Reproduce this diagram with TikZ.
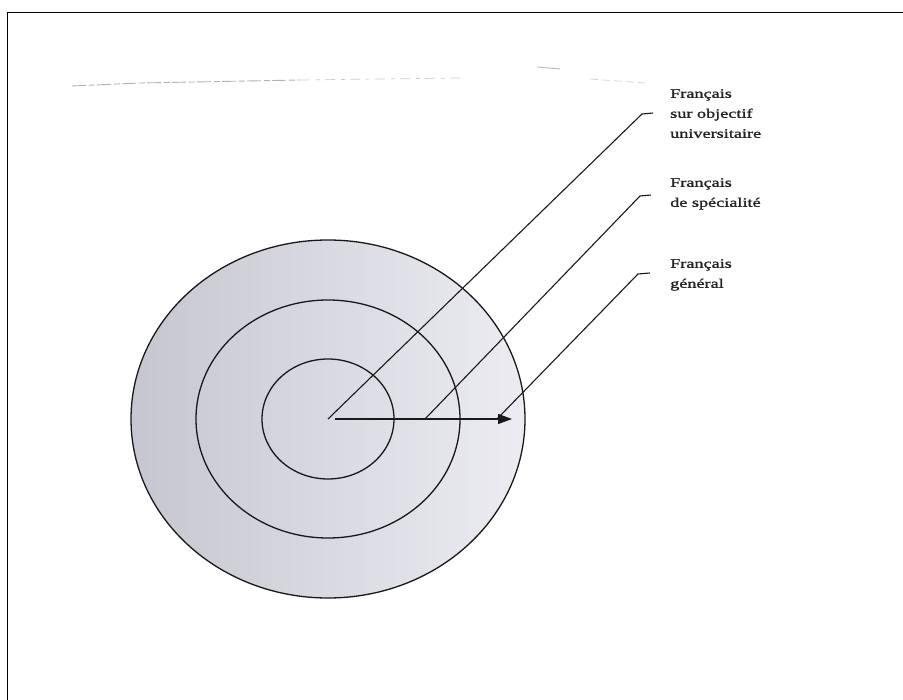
\documentclass[tikz,border=0pt]{standalone}
\usepackage{fontspec}
\usetikzlibrary{arrows.meta}
\newfontfamily\lblfont[FakeStretch=1.4,FakeBold=1.3]{Liberation Serif}
\definecolor{ringdark}{RGB}{198,198,208}
\definecolor{ringlight}{RGB}{236,236,242}
\definecolor{inkc}{RGB}{25,25,25}
\definecolor{textc}{RGB}{35,35,35}
\tikzset{
  ring/.style={draw=inkc, line width=1.3pt},
  leader/.style={draw=inkc, line width=1.1pt},
  lbl/.style={anchor=north west, inner sep=0pt, align=left, text=textc,
              font=\lblfont\fontsize{13}{20}\selectfont},
  smudge/.style={draw=gray!60, line width=0.9pt, dash pattern=on 14pt off 3pt on 6pt off 2pt}
}
\begin{document}
\begin{tikzpicture}[x=1pt,y=-1pt]
\useasboundingbox (0,0) rectangle (903,700);
\fill[white] (0,0) rectangle (903,700);
% frame (top and left edges visible)
\draw[black, line width=1.8pt] (7.5,730) -- (7.5,12.5) -- (930,12.5);
% scan smudge
\draw[smudge] (72,86) -- (140,83) -- (300,80);
\draw[gray!40, line width=0.7pt, dash pattern=on 10pt off 6pt on 4pt off 5pt] (300,80) -- (460,78);
\draw[gray!55, line width=0.9pt] (537,67) -- (560,69);
\draw[gray!35, line width=0.7pt, dash pattern=on 8pt off 4pt] (590,79) -- (645,83);
% rings
\coordinate (c) at (328,419);
\shade[left color=ringdark, right color=ringlight, ring] (c) ellipse [x radius=197pt, y radius=179pt];
\draw[ring] (c) ellipse [x radius=132pt, y radius=119pt];
\draw[ring] (c) ellipse [x radius=66pt, y radius=60pt];
% labels
\node[lbl] (t1) at (670,89) {Français\\sur objectif\\universitaire};
\node[lbl] (t2) at (670,178) {Français\\de spécialité};
\node[lbl] (t3) at (670,259) {Français\\général};
% leader coordinates
\coordinate (a0) at (335,419);
\coordinate (a1) at (512,419);
\coordinate (s2) at (425,419);
\coordinate (s3) at (497,419);
\coordinate (k1) at (642,114);
\coordinate (e1) at (653,113);
\coordinate (k2) at (640,196);
\coordinate (e2) at (651,195);
\coordinate (k3) at (638,274);
\coordinate (e3) at (650,273);
% leaders
\draw[leader] (c) -- (k1) -- (e1);
\draw[leader] (s2) -- (k2) -- (e2);
\draw[leader] (s3) -- (k3) -- (e3);
\draw[leader, -{Triangle[length=14pt,width=10pt]}] (a0) -- (a1);
\end{tikzpicture}
\end{document}
